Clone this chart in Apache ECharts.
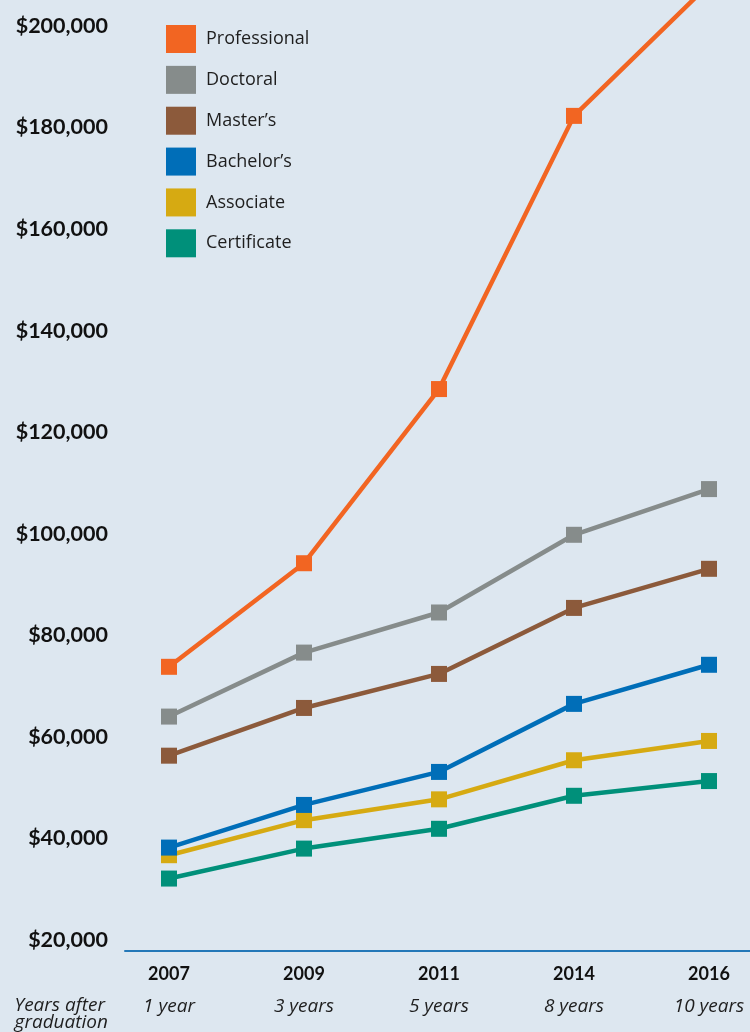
<!DOCTYPE html>
<html>
<head>
<meta charset="utf-8">
<script src="https://cdn.jsdelivr.net/npm/echarts@6/dist/echarts.min.js"></script>
<style>
  html, body { margin: 0; padding: 0; background: #dde7f0; }
  #chart { width: 750px; height: 1032px; }
</style>
</head>
<body>
<div id="chart"></div>
<script>
// data
var years = ['2007', '2009', '2011', '2014', '2016'];
var yearsAfter = ['1 year', '3 years', '5 years', '8 years', '10 years'];
var names = ['Professional', 'Doctoral', "Master\u2019s", "Bachelor\u2019s", 'Associate', 'Certificate'];
var professional = [73800, 94200, 128500, 182300, 208200];
var doctoral = [64000, 76600, 84500, 99800, 108800];
var masters = [56300, 65700, 72400, 85400, 93100];
var bachelors = [38200, 46600, 53100, 66500, 74200];
var associate = [36700, 43600, 47700, 55400, 59200];
var certificate = [32100, 38000, 41900, 48400, 51300];
var colors = ['#f26522', '#868c8b', '#8c5a3b', '#006eb8', '#d6aa12', '#00907a'];

var allData = [professional, doctoral, masters, bachelors, associate, certificate];
var font = '"Open Sans", "Noto Sans", sans-serif';
var boldFont = 'Lato, "Open Sans", sans-serif';

var myChart = echarts.init(document.getElementById('chart'));

var series = allData.map(function (d, i) {
  return {
    name: names[i],
    type: 'line',
    xAxisIndex: 0,
    yAxisIndex: 0,
    data: d,
    clip: false,
    z: 10 - i,
    symbol: 'rect',
    symbolSize: 16,
    color: colors[i],
    lineStyle: { width: 4.5, color: colors[i] },
    itemStyle: { color: colors[i] }
  };
});

var option = {
  backgroundColor: '#dde7f0',
  animation: false,
  textStyle: { fontFamily: font },
  legend: {
    orient: 'vertical',
    left: 161,
    top: 20,
    icon: 'rect',
    itemWidth: 30,
    itemHeight: 28,
    itemGap: 12.86,
    data: names,
    textStyle: { fontFamily: font, fontSize: 18, color: '#1e1e1e', padding: [0, 0, 0, 5] }
  },
  grid: [
    { left: 101.5, width: 675, top: 26, height: 914, outerBoundsMode: 'none', containLabel: false },
    { left: 125, right: 0, top: 26, height: 914, outerBoundsMode: 'none', containLabel: false }
  ],
  xAxis: [
    {
      type: 'category',
      gridIndex: 0,
      data: years,
      offset: 11,
      axisLine: { show: false },
      axisTick: { show: false },
      axisLabel: {
        margin: 6,
        interval: 0,
        formatter: function (v, i) {
          return '{a|' + v + '}\n{b|' + yearsAfter[i] + '}';
        },
        rich: {
          a: { fontFamily: boldFont, fontSize: 18, fontWeight: 'bold', color: '#111', lineHeight: 34 },
          b: { fontFamily: font, fontSize: 19, fontStyle: 'italic', color: '#1e1e1e', lineHeight: 32 }
        }
      }
    },
    {
      type: 'category',
      gridIndex: 1,
      data: years,
      offset: 11,
      axisLine: { show: true, lineStyle: { color: '#2478b8', width: 2 } },
      axisTick: { show: false },
      axisLabel: { show: false }
    }
  ],
  yAxis: [
    {
      type: 'value',
      gridIndex: 0,
      min: 20000,
      max: 200000,
      interval: 20000,
      show: false
    },
    {
      type: 'value',
      gridIndex: 1,
      min: 20000,
      max: 200000,
      interval: 20000,
      axisLine: { show: false },
      axisTick: { show: false },
      splitLine: { show: false },
      axisLabel: {
        margin: 17,
        fontFamily: boldFont,
        fontSize: 21.5,
        fontWeight: 'bold',
        color: '#111',
        formatter: function (v) {
          return '$' + v.toLocaleString('en-US');
        }
      }
    }
  ],
  graphic: [
    {
      type: 'text',
      right: 642,
      top: 996,
      style: {
        text: 'Years after\ngraduation',
        fontFamily: font,
        fontSize: 19,
        fontStyle: 'italic',
        lineHeight: 17,
        fill: '#1e1e1e',
        align: 'right'
      }
    }
  ],
  series: series
};

myChart.setOption(option);
window.addEventListener('resize', function () {
  myChart.resize();
});
</script>
</body>
</html>
